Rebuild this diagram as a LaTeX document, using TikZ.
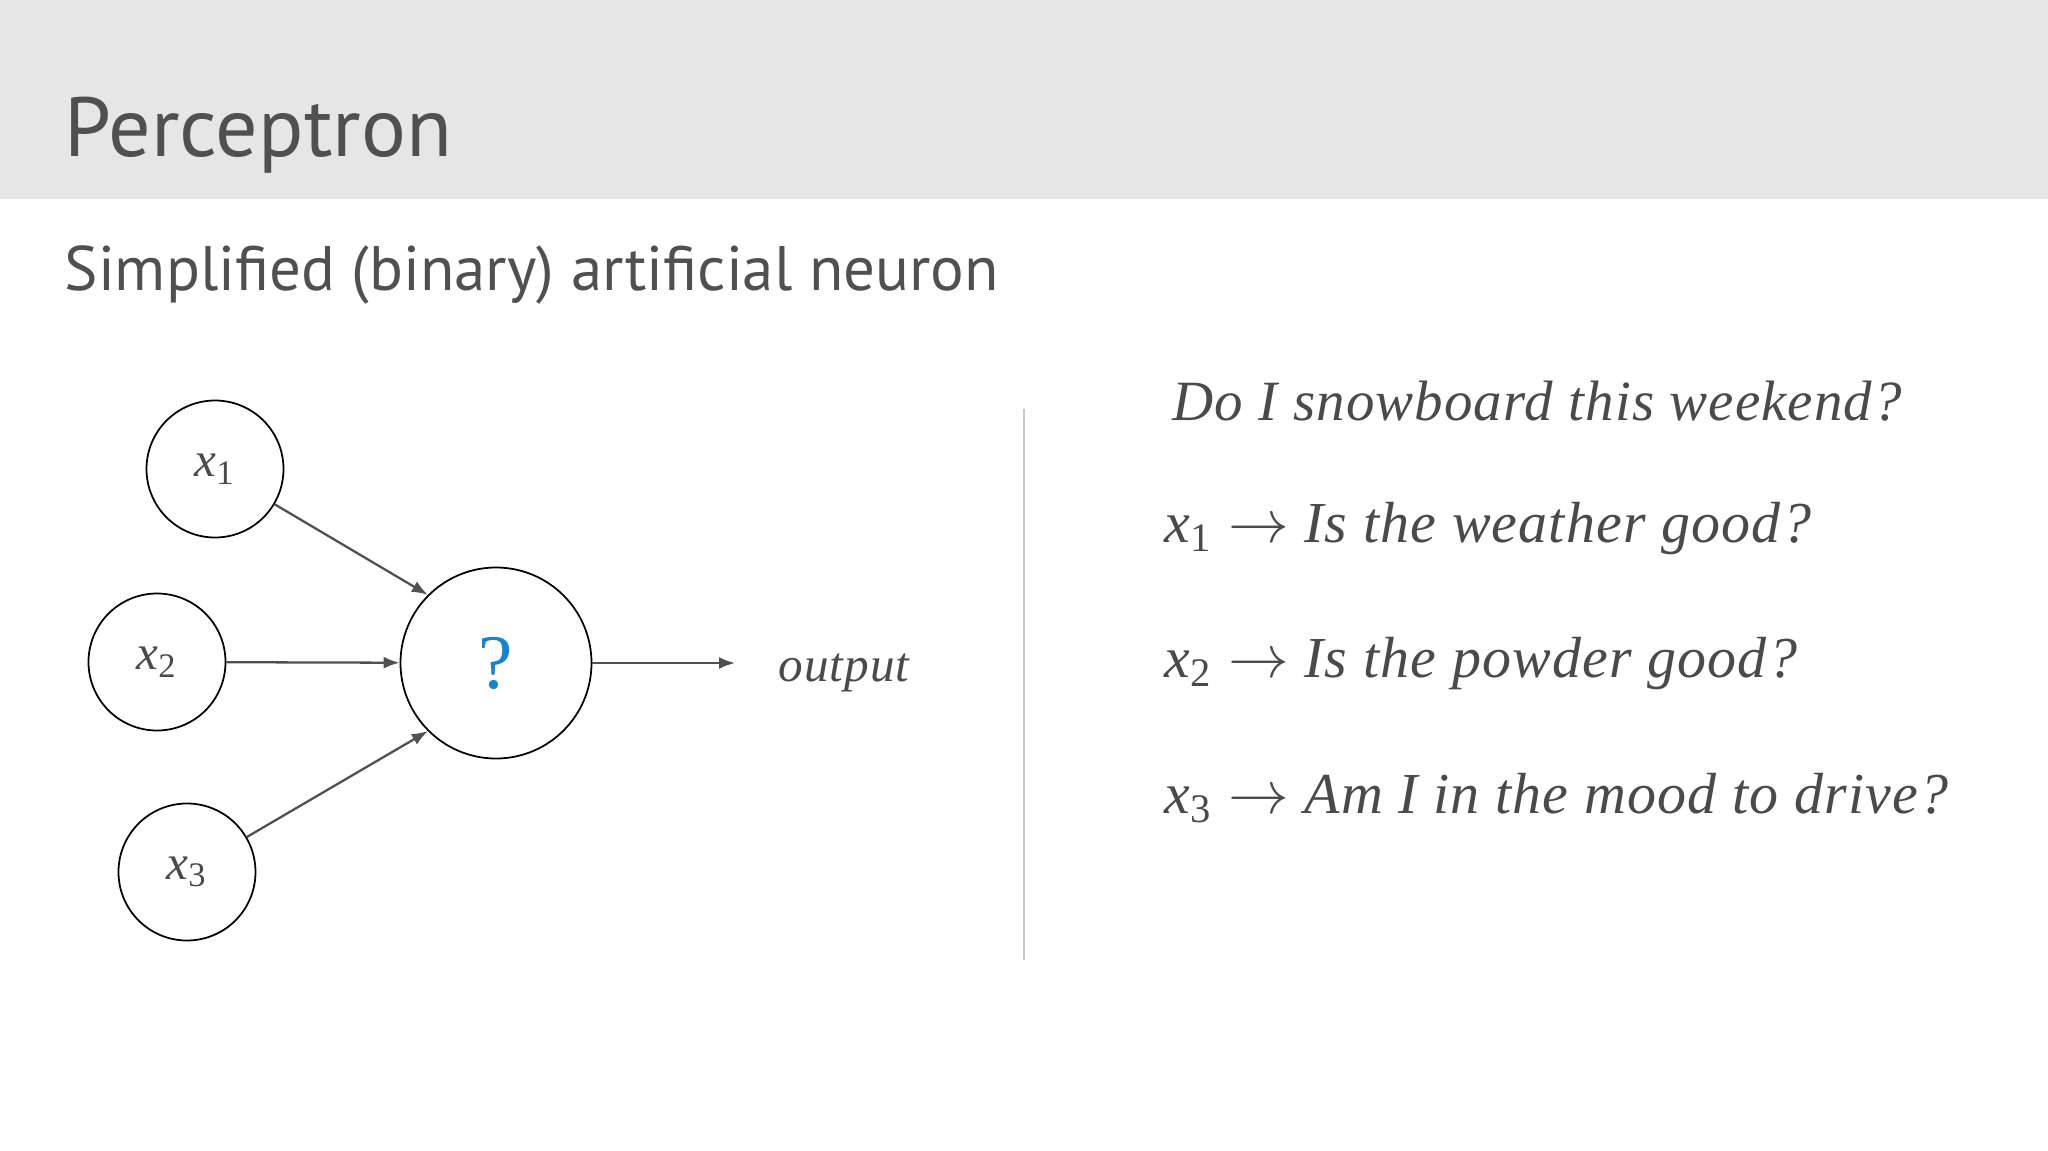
\documentclass[tikz,border=0pt]{standalone}
\usepackage{fontspec}
\setmainfont{Liberation Serif}
\newfontfamily\headfont{PT Sans}
\newfontfamily\askfont{Liberation Serif}[LetterSpace=2]
\usetikzlibrary{arrows.meta,positioning}
\definecolor{bandgray}{HTML}{E6E6E6}
\definecolor{txtgray}{HTML}{4A4A4A}
\definecolor{headgray}{HTML}{505050}
\definecolor{arrgray}{HTML}{505050}
\definecolor{rulegray}{HTML}{C8C8C8}
\definecolor{qblue}{HTML}{1A84C8}

\begin{document}
\begin{tikzpicture}[x=0.1mm,y=-0.1mm,
	neuron/.style={circle,draw,line width=0.5pt,minimum size=13.7mm,inner sep=0pt,text=txtgray,font=\fontsize{14}{16}\selectfont},
	syn/.style={arrgray,line width=0.65pt,-{Latex[length=1.6mm,width=1.2mm]}},
	question/.style={anchor=base west,inner sep=0pt,text=txtgray,font=\askfont\fontsize{16.5}{20}\selectfont\itshape}]
	\useasboundingbox (0,0) rectangle (2048,1151);
	\fill[bandgray] (0,0) rectangle (2048,199);
	\node[anchor=base west,inner sep=0pt,text=headgray,font=\headfont\fontsize{23.9}{29}\selectfont] (title) at (64,157) {Perceptron};
	\node[anchor=base west,inner sep=0pt,text=headgray,font=\headfont\fontsize{17.9}{22}\selectfont] (sub) at (64,290) {Simplified (binary) artificial neuron};
	% the neuron
	\node[neuron] (x1) at (215,469) {\textit{x}\textsubscript{1}};
	\node[neuron] (x2) at (157,662) {\textit{x}\textsubscript{2}};
	\node[neuron] (x3) at (187,872) {\textit{x}\textsubscript{3}};
	\node[neuron,minimum size=19.1mm,text=qblue,font=\fontsize{22}{26}\selectfont] (q) at (496,663) {?};
	\coordinate (o) at (735,663);
	\node[right=4.3mm of o,yshift=-1mm,inner sep=0pt,text=txtgray,font=\askfont\fontsize{14}{16}\selectfont\itshape] (out) {output};
	\draw[syn] (x1) -- (q.135);
	\draw[syn] (x2) -- (q);
	\draw[syn] (x3) -- (q.225);
	\draw[syn] (q) -- (o);
	\draw[rulegray,line width=0.4pt] (1024,409) -- (1024,960);
	% the questions
	\node[question,font=\askfont\fontsize{16.2}{20}\selectfont\itshape] (ask) at (1172,420) {Do I snowboard this weekend?};
	\node[question] (in1) at (1164,542) {x\textsubscript{\upshape 1} $\rightarrow$ Is the weather good?};
	\node[question] (in2) at (1164,677) {x\textsubscript{\upshape 2} $\rightarrow$ Is the powder good?};
	\node[question] (in3) at (1164,813) {x\textsubscript{\upshape 3} $\rightarrow$ Am I in the mood to drive?};
\end{tikzpicture}
\end{document}
